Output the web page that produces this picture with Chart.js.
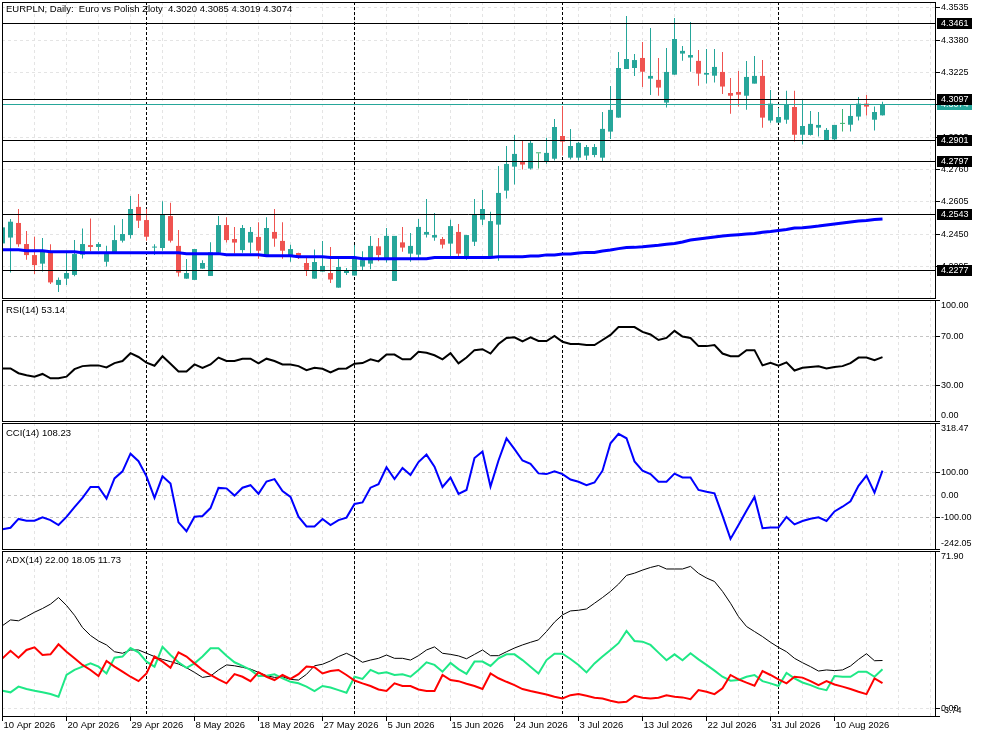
<!DOCTYPE html>
<html lang="en-US">
<head>
<meta charset="utf-8">
<title>EURPLN, Daily</title>
<script src="https://cdn.jsdelivr.net/npm/chart.js@4.4.1/dist/chart.umd.min.js"></script>
<style>
  html, body { margin: 0; padding: 0; background: #fff; }
  #wrap { position: relative; width: 983px; height: 737px; overflow: hidden; background: #fff; }
  #wrap canvas { position: absolute; left: 0; }
</style>
</head>
<body>
<div id="wrap">
  <canvas id="main" width="983" height="300" style="top:0px"></canvas>
  <canvas id="rsi" width="983" height="124" style="top:299px"></canvas>
  <canvas id="cci" width="983" height="127" style="top:423px"></canvas>
  <canvas id="adx" width="983" height="187" style="top:550px"></canvas>
</div>
<script>
// daily bars, 10 Apr 2026 .. 17 Aug 2026 (Sunday bars included)
const openV = [4.2406,4.2434,4.2504,4.2403,4.2350,4.2309,4.2366,4.2207,4.2237,4.2255,
  4.2352,4.2398,4.2389,4.2318,4.2365,4.2419,4.2446,4.2581,4.2518,4.2386,
  4.2384,4.2537,4.2394,4.2237,4.2231,4.2285,4.2250,4.2361,4.2494,4.2427,
  4.2374,4.2410,4.2437,4.2350,4.2461,4.2418,4.2342,4.2360,4.2312,4.2237,
  4.2271,4.2264,4.2194,4.2264,4.2252,4.2295,4.2309,4.2392,4.2326,4.2226,
  4.2411,4.2357,4.2352,4.2448,4.2434,4.2427,4.2405,4.2461,4.2345,4.2414,
  4.2520,4.2336,4.2496,4.2659,4.2774,4.2796,4.2765,4.2838,4.2798,4.2812,
  4.2921,4.2817,4.2817,4.2827,4.2830,4.2817,4.2942,4.3009,4.3242,4.3247,
  4.3295,4.3196,4.3190,4.3081,4.3215,4.3316,4.3297,4.3281,4.3215,4.3210,
  4.3228,4.3127,4.3132,4.3114,4.3172,4.3209,4.2995,4.2985,4.2999,4.3060,
  4.2927,4.2926,4.2961,4.2899,4.2905,4.2979,4.2975,4.3014,4.3076,4.2999,
  4.3020];
const highV = [4.2494,4.2523,4.2571,4.2465,4.2438,4.2432,4.2402,4.2243,4.2363,4.2422,
  4.2477,4.2526,4.2411,4.2395,4.2493,4.2523,4.2633,4.2643,4.2571,4.2402,
  4.2608,4.2601,4.2470,4.2331,4.2379,4.2325,4.2411,4.2537,4.2532,4.2485,
  4.2494,4.2485,4.2507,4.2532,4.2571,4.2508,4.2400,4.2361,4.2341,4.2377,
  4.2418,4.2389,4.2334,4.2288,4.2398,4.2369,4.2442,4.2432,4.2480,4.2442,
  4.2485,4.2456,4.2523,4.2619,4.2552,4.2437,4.2520,4.2499,4.2446,4.2619,
  4.2662,4.2558,4.2777,4.2873,4.2926,4.2897,4.2897,4.2838,4.2912,4.3002,
  4.3065,4.2955,4.2892,4.2878,4.2883,4.3036,4.3161,4.3324,4.3496,4.3314,
  4.3372,4.3439,4.3295,4.3343,4.3487,4.3352,4.3468,4.3333,4.3338,4.3338,
  4.3324,4.3199,4.3233,4.3281,4.3305,4.3285,4.3142,4.3055,4.3138,4.3138,
  4.3095,4.3041,4.3036,4.2959,4.2974,4.3050,4.3070,4.3108,4.3118,4.3062,
  4.3085];
const lowV = [4.2398,4.2266,4.2390,4.2328,4.2259,4.2271,4.2211,4.2173,4.2207,4.2248,
  4.2334,4.2369,4.2371,4.2295,4.2358,4.2410,4.2429,4.2480,4.2419,4.2350,
  4.2371,4.2410,4.2247,4.2237,4.2231,4.2285,4.2250,4.2361,4.2410,4.2358,
  4.2361,4.2358,4.2333,4.2342,4.2390,4.2333,4.2318,4.2331,4.2250,4.2237,
  4.2271,4.2216,4.2194,4.2255,4.2252,4.2279,4.2282,4.2321,4.2314,4.2226,
  4.2366,4.2318,4.2334,4.2434,4.2419,4.2381,4.2345,4.2336,4.2328,4.2394,
  4.2494,4.2336,4.2323,4.2621,4.2688,4.2760,4.2760,4.2765,4.2788,4.2803,
  4.2827,4.2808,4.2804,4.2806,4.2819,4.2801,4.2907,4.3009,4.3242,4.3209,
  4.3156,4.3118,4.3114,4.3057,4.3215,4.3282,4.3229,4.3162,4.3172,4.3177,
  4.3122,4.3028,4.3062,4.3047,4.3172,4.2961,4.2985,4.2985,4.2980,4.2894,
  4.2880,4.2923,4.2918,4.2899,4.2900,4.2942,4.2942,4.2995,4.3019,4.2947,
  4.3019];
const closeV = [4.2483,4.2510,4.2402,4.2350,4.2302,4.2366,4.2219,4.2231,4.2264,4.2355,
  4.2403,4.2389,4.2403,4.2355,4.2422,4.2451,4.2571,4.2515,4.2438,4.2389,
  4.2545,4.2419,4.2266,4.2264,4.2379,4.2312,4.2363,4.2494,4.2422,4.2410,
  4.2480,4.2461,4.2371,4.2480,4.2429,4.2371,4.2379,4.2342,4.2279,4.2317,
  4.2298,4.2233,4.2293,4.2274,4.2336,4.2326,4.2394,4.2350,4.2442,4.2442,
  4.2386,4.2394,4.2485,4.2461,4.2446,4.2400,4.2489,4.2357,4.2446,4.2543,
  4.2571,4.2513,4.2648,4.2787,4.2835,4.2784,4.2888,4.2838,4.2840,4.2964,
  4.2894,4.2873,4.2888,4.2868,4.2868,4.2955,4.3046,4.3247,4.3290,4.3285,
  4.3229,4.3209,4.3153,4.3228,4.3386,4.3329,4.3309,4.3220,4.3223,4.3252,
  4.3158,4.3114,4.3119,4.3204,4.3209,4.3009,4.3076,4.3012,4.3070,4.2927,
  4.2969,4.2979,4.2974,4.2950,4.2974,4.2979,4.3017,4.3076,4.3062,4.3036,
  4.3074];
const maV = [4.2376,4.2376,4.2376,4.2371,4.2371,4.2371,4.2366,4.2366,4.2366,4.2366,
  4.2361,4.2361,4.2361,4.2361,4.2361,4.2361,4.2361,4.2361,4.2361,4.2361,
  4.2361,4.2361,4.2361,4.2357,4.2357,4.2357,4.2357,4.2357,4.2352,4.2352,
  4.2352,4.2352,4.2352,4.2347,4.2347,4.2347,4.2347,4.2342,4.2342,4.2342,
  4.2342,4.2338,4.2338,4.2338,4.2338,4.2333,4.2333,4.2333,4.2333,4.2333,
  4.2333,4.2333,4.2333,4.2333,4.2338,4.2338,4.2338,4.2338,4.2338,4.2338,
  4.2338,4.2338,4.2342,4.2342,4.2342,4.2342,4.2346,4.2346,4.2351,4.2351,
  4.2355,4.2355,4.2360,4.2363,4.2363,4.2370,4.2374,4.2381,4.2386,4.2387,
  4.2390,4.2394,4.2397,4.2402,4.2406,4.2413,4.2422,4.2427,4.2432,4.2437,
  4.2442,4.2445,4.2448,4.2451,4.2453,4.2459,4.2463,4.2468,4.2473,4.2480,
  4.2481,4.2485,4.2489,4.2494,4.2499,4.2504,4.2509,4.2513,4.2516,4.2521,
  4.2523];
const rsiV = [43.9,43.9,40.0,38.3,37.2,39.4,35.8,35.8,37.2,43.3,
  45.8,46.4,46.4,44.7,48.3,50.0,56.4,53.3,48.6,46.1,
  53.9,47.8,41.4,41.4,47.2,44.4,47.2,52.8,50.0,50.0,
  51.9,51.9,48.1,51.9,50.0,47.2,47.2,45.8,42.5,44.4,
  43.6,40.6,43.6,43.9,47.8,48.3,51.4,49.7,55.3,55.3,
  51.4,51.4,57.5,56.7,54.7,51.4,56.4,48.1,52.8,58.9,
  59.7,56.1,63.9,68.9,69.4,66.1,69.4,66.4,66.4,70.6,
  65.8,63.9,63.9,63.1,63.1,67.2,71.4,77.8,77.8,77.8,
  73.9,71.7,67.2,68.9,74.7,70.0,68.9,62.2,62.2,63.1,
  56.1,53.9,53.9,58.9,58.9,46.4,48.6,46.1,48.9,42.2,
  44.4,45.0,45.6,43.9,45.0,45.8,48.3,52.8,52.8,50.6,
  53.14];
const cciV = [-150,-144,-105,-113,-113,-98,-110,-132,-96,-53,
  -12,36,36,-15,74,105,183,150,83,-12,
  83,51,-120,-159,-95,-92,-57,32,30,-2,
  33,44,6,60,71,18,-8,-95,-138,-138,
  -105,-132,-110,-99,-39,-32,33,48,123,71,
  120,89,146,179,126,36,78,6,23,164,
  193,38,153,251,203,153,138,96,93,105,
  93,69,59,44,56,108,229,271,251,149,
  108,93,59,59,95,78,78,23,15,8,
  -90,-193,-132,-69,-8,-146,-143,-143,-96,-129,
  -114,-104,-98,-114,-72,-51,-27,41,86,11,
  108.23];
const adxV = [37.9,40.5,40.1,42.0,44.0,45.7,47.7,50.7,47.1,42.6,
  37.0,33.4,30.9,29.1,26.0,25.3,26.8,26.8,25.3,23.8,
  22.5,21.5,20.4,18.7,16.6,14.3,14.9,17.7,20.0,19.6,
  18.9,18.1,16.6,15.1,14.3,14.6,13.4,13.1,15.7,19.6,
  20.3,21.8,23.8,25.3,23.5,21.2,22.2,23.0,24.5,23.0,
  23.0,22.2,24.2,26.8,28.2,25.3,24.8,24.1,22.8,24.8,
  26.8,24.2,24.2,26.0,27.7,29.1,30.3,31.4,35.2,39.5,
  42.8,44.6,44.9,45.5,48.1,50.7,53.5,56.8,60.8,61.8,
  63.2,64.4,65.3,63.7,63.7,63.7,64.9,61.7,59.6,58.0,
  53.5,48.1,42.0,37.5,35.2,32.9,30.3,28.0,26.0,23.0,
  21.0,19.2,17.2,17.7,17.4,17.7,19.5,22.5,25.1,21.9,
  22.00];
const pdiV = [8.2,7.5,10.1,9.0,8.2,7.5,6.7,5.5,15.4,17.7,
  19.2,20.7,19.2,16.1,23.3,23.8,27.7,25.7,21.5,19.2,
  28.2,24.5,21.2,18.7,20.7,23.8,27.6,27.6,24.2,21.2,
  19.6,17.7,14.9,15.1,15.7,13.9,12.3,11.6,10.1,8.1,
  10.4,9.7,8.5,7.3,14.6,13.6,17.7,16.1,16.6,15.4,
  15.7,14.6,17.7,21.2,20.0,16.9,20.9,18.1,15.9,21.5,
  21.5,19.5,23.0,24.8,24.8,22.2,19.2,16.1,22.2,25.1,
  25.1,22.7,20.0,16.6,20.7,23.8,26.8,29.9,35.5,30.9,
  30.6,29.1,25.6,22.1,24.8,22.1,25.3,22.5,20.0,17.4,
  14.6,12.8,13.1,14.6,15.4,12.6,11.6,10.4,16.3,13.9,
  12.0,10.8,9.3,8.5,14.9,14.6,14.6,16.9,16.9,14.6,
  18.05];
const mdiV = [23.0,26.4,23.3,26.8,28.0,24.5,24.8,29.4,26.0,23.0,
  20.0,17.7,14.9,21.8,19.2,16.9,14.6,12.6,16.1,23.8,
  21.5,18.7,25.7,23.8,20.7,17.7,15.4,13.4,11.6,15.8,
  14.6,12.6,16.6,14.6,13.1,15.4,13.6,15.8,19.3,18.9,
  16.1,17.2,17.7,15.4,12.9,11.6,10.4,8.8,8.1,11.6,
  10.4,10.4,8.8,8.1,8.1,15.4,13.1,12.6,11.4,10.4,
  9.0,16.1,13.9,12.3,10.8,9.0,8.1,7.3,6.5,5.5,
  4.7,6.2,6.7,5.9,5.0,4.7,3.7,2.9,3.2,5.9,
  5.0,4.7,5.0,6.2,5.5,5.2,4.4,8.5,7.8,6.7,
  9.3,15.4,13.4,11.9,10.5,17.2,15.4,13.4,11.6,14.6,
  14.2,12.6,10.8,12.6,11.1,10.1,9.0,7.8,6.7,13.9,
  11.73];

// axis labels: one date every 8 bars, grid every 4 bars
const dateLabels = ['10 Apr 2026','20 Apr 2026','29 Apr 2026','8 May 2026','18 May 2026','27 May 2026',
  '5 Jun 2026','15 Jun 2026','24 Jun 2026','3 Jul 2026','13 Jul 2026','22 Jul 2026','31 Jul 2026','10 Aug 2026'];
const dateEvery = 8;
const gridEvery = 4;
const monthStarts = [18, 44, 70, 97];   // bar index of 1 May, 1 Jun, 1 Jul, 2 Aug
const priceTicks = [4.2295, 4.2450, 4.2605, 4.2760, 4.2915, 4.3070, 4.3225, 4.3380, 4.3535];
const levelPrices = [4.3461, 4.3097, 4.2901, 4.2797, 4.2543, 4.2277];

const idx = openV.map((_, i) => i);
const last = idx.length - 1;
const BULL = '#26a69a', BEAR = '#ef5350', DOJI = '#3cb371';
const candleColors = idx.map(i => closeV[i] > openV[i] ? BULL : (closeV[i] < openV[i] ? BEAR : DOJI));

const FONT = '"Liberation Sans", Arial, sans-serif';

function line(ctx, x1, y1, x2, y2) {
  ctx.beginPath(); ctx.moveTo(x1, y1); ctx.lineTo(x2, y2); ctx.stroke();
}

// draws the MetaTrader-like frame, grid, right axis and title of one pane
function paneFrame(cfg) {
  return {
    id: 'paneFrame',
    beforeDatasetsDraw(chart) {
      const { ctx, chartArea: a } = chart;
      const x = chart.scales.x, y = chart.scales.y;
      ctx.save();
      ctx.beginPath(); ctx.rect(a.left, a.top, a.right - a.left, a.bottom - a.top); ctx.clip();
      ctx.lineWidth = 1;
      ctx.setLineDash([3, 3]);
      ctx.strokeStyle = '#e4e4e4';
      for (let i = 0; i <= x.max; i += gridEvery) {
        const px = Math.floor(x.getPixelForValue(i)) + 0.5;
        line(ctx, px, a.top, px, a.bottom);
      }
      ctx.strokeStyle = cfg.gridColor;
      cfg.gridY.forEach(v => {
        const py = Math.floor(y.getPixelForValue(v)) + 0.5;
        line(ctx, a.left, py, a.right, py);
      });
      ctx.strokeStyle = '#000';
      ctx.setLineDash([3, 2]);
      monthStarts.forEach(i => {
        const px = Math.floor(x.getPixelForValue(i)) + 0.5;
        line(ctx, px, a.top, px, a.bottom);
      });
      ctx.restore();
    },
    afterDatasetsDraw(chart) {
      const { ctx, chartArea: a } = chart;
      const x = chart.scales.x, y = chart.scales.y;
      const levels = cfg.levels || [];
      ctx.save();
      ctx.lineWidth = 1;
      ctx.setLineDash([]);
      levels.forEach(l => {
        const py = Math.floor(y.getPixelForValue(l.v)) + 0.5;
        ctx.strokeStyle = l.color;
        line(ctx, a.left, py, a.right, py);
      });
      ctx.strokeStyle = '#000';
      ctx.strokeRect(Math.floor(a.left) + 0.5, Math.floor(a.top) + 0.5,
        Math.round(a.right - a.left), Math.round(a.bottom - a.top) - 1);

      ctx.font = '9px ' + FONT;
      ctx.fillStyle = '#000';
      ctx.textAlign = 'left';
      ctx.textBaseline = 'middle';
      cfg.yLabels.forEach(t => {
        const py = y.getPixelForValue(t.v);
        if (t.tick !== false) {
          const ly = Math.min(Math.floor(py), a.bottom - 1) + 0.5;
          line(ctx, a.right + 1, ly, a.right + 5, ly);
        }
        const ty = Math.min(Math.max(py, a.top + 6), a.bottom - 6);
        ctx.fillText(t.text, a.right + 6, ty);
      });
      levels.forEach(l => {
        const py = Math.floor(y.getPixelForValue(l.v));
        ctx.fillStyle = l.color;
        ctx.fillRect(a.right + 2, py - 5, 35, 11);
        ctx.fillStyle = '#fff';
        ctx.fillText(l.v.toFixed(4), a.right + 6, py + 0.5);
      });

      if (cfg.dates) {
        ctx.fillStyle = '#000';
        ctx.font = '9.5px ' + FONT;
        dateLabels.forEach((d, k) => {
          const px = Math.floor(x.getPixelForValue(k * dateEvery)) + 0.5;
          line(ctx, px, a.bottom, px, a.bottom + 4);
          ctx.fillText(d, px + 1, a.bottom + 8);
        });
      }

      ctx.fillStyle = '#000';
      ctx.font = '9.5px ' + FONT;
      ctx.fillText(cfg.title, 6, a.top + cfg.titleDy);
      ctx.restore();
    }
  };
}

function baseOptions(pad, yMin, yMax) {
  return {
    responsive: false,
    animation: false,
    events: [],
    layout: { padding: { left: 2, right: 48, top: pad[0], bottom: pad[1] } },
    scales: {
      x: { type: 'linear', min: -0.0625, max: 116.5625, offset: false, display: false },
      y: { type: 'linear', min: yMin, max: yMax, display: false }
    },
    plugins: { legend: { display: false }, tooltip: { enabled: false } }
  };
}

// price pane
new Chart(document.getElementById('main'), {
  type: 'bar',
  data: {
    datasets: [
      { label: 'range', data: idx.map(i => ({ x: i, y: [lowV[i], highV[i]] })),
        backgroundColor: candleColors, barThickness: 1, grouped: false,
        inflateAmount: 0, borderWidth: 0, order: 3 },
      { label: 'body', data: idx.map(i => ({ x: i, y: [openV[i], closeV[i]] })),
        backgroundColor: candleColors, barThickness: 5, minBarLength: 1, grouped: false,
        inflateAmount: 0, borderWidth: 0, order: 2 },
      { type: 'line', label: 'MA', data: idx.map(i => ({ x: i, y: maV[i] })),
        borderColor: '#0000ff', borderWidth: 3, pointRadius: 0, tension: 0, order: 1 }
    ]
  },
  options: baseOptions([2, 1], 4.21395, 4.35633),
  plugins: [paneFrame({
    title: 'EURPLN, Daily:  Euro vs Polish Zloty  ' +
      [openV[last], highV[last], lowV[last], closeV[last]].map(v => v.toFixed(4)).join(' '),
    titleDy: 7.5,
    gridColor: '#e4e4e4',
    gridY: priceTicks,
    yLabels: priceTicks.map(v => ({ v: v, text: v.toFixed(4) })),
    levels: [{ v: closeV[last], color: BULL }].concat(levelPrices.map(v => ({ v: v, color: '#000' })))
  })]
});

function indicator(id, pad, yMin, yMax, sets, cfg) {
  return new Chart(document.getElementById(id), {
    type: 'line',
    data: {
      datasets: sets.map(s => ({
        data: idx.map(i => ({ x: i, y: s.values[i] })),
        borderColor: s.color, borderWidth: s.width, pointRadius: 0, tension: 0, order: s.order
      }))
    },
    options: baseOptions(pad, yMin, yMax),
    plugins: [paneFrame(cfg)]
  });
}

indicator('rsi', [1, 1], 0, 100,
  [{ values: rsiV, color: '#000000', width: 2, order: 0 }],
  { title: 'RSI(14) ' + rsiV[last].toFixed(2), titleDy: 10.3, gridColor: '#c4c4c4', gridY: [70, 30],
    yLabels: [{ v: 100, text: '100.00' }, { v: 70, text: '70.00' }, { v: 30, text: '30.00' }, { v: 0, text: '0.00' }] });

indicator('cci', [0, 0], -242.05, 318.47,
  [{ values: cciV, color: '#0000ff', width: 2, order: 0 }],
  { title: 'CCI(14) ' + cciV[last].toFixed(2), titleDy: 10.7, gridColor: '#c4c4c4', gridY: [100, 0, -100],
    yLabels: [{ v: 318.47, text: '318.47' }, { v: 100, text: '100.00' }, { v: 0, text: '0.00', tick: false },
              { v: -100, text: '-100.00' }, { v: -242.05, text: '-242.05' }] });

indicator('adx', [1, 20], -3.74, 71.90,
  [{ values: adxV, color: '#000000', width: 1, order: 2 },
   { values: pdiV, color: '#1ee886', width: 2, order: 1 },
   { values: mdiV, color: '#ff0000', width: 2, order: 0 }],
  { title: 'ADX(14) ' + [adxV[last], pdiV[last], mdiV[last]].map(v => v.toFixed(2)).join(' '),
    titleDy: 9.7, gridColor: '#e4e4e4', gridY: [0], dates: true,
    yLabels: [{ v: 71.90, text: '71.90' }, { v: 0, text: '0.00' }, { v: -3.74, text: '-3.74' }] });
</script>
</body>
</html>
